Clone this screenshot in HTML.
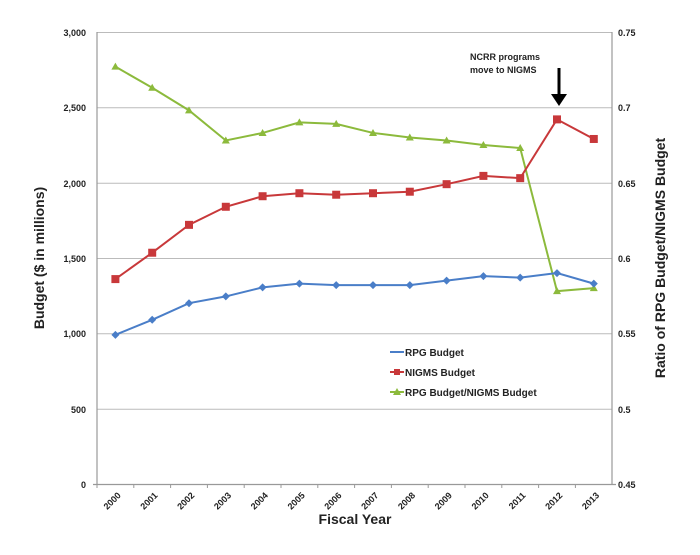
<!DOCTYPE html>
<html><head><meta charset="utf-8"><style>body{margin:0;background:#fff}</style></head><body>
<svg width="700" height="550" xmlns="http://www.w3.org/2000/svg" font-family="Liberation Sans, sans-serif">
<g stroke="#bbb" stroke-width="1">
<line x1="97" y1="32.5" x2="612" y2="32.5"/><line x1="97" y1="107.8" x2="612" y2="107.8"/><line x1="97" y1="183.2" x2="612" y2="183.2"/><line x1="97" y1="258.5" x2="612" y2="258.5"/><line x1="97" y1="333.8" x2="612" y2="333.8"/><line x1="97" y1="409.2" x2="612" y2="409.2"/>
</g>
<g stroke="#999" stroke-width="1.2"><line x1="97" y1="32" x2="97" y2="484"/><line x1="612" y1="32" x2="612" y2="484"/><line x1="93" y1="484.5" x2="616" y2="484.5"/></g>
<g font-size="9" font-weight="bold" fill="#222" text-anchor="end">
<text x="86" y="36">3,000</text><text x="86" y="111">2,500</text><text x="86" y="187">2,000</text><text x="86" y="262">1,500</text><text x="86" y="337">1,000</text><text x="86" y="413">500</text><text x="86" y="488">0</text>
</g>
<g font-size="9" font-weight="bold" fill="#222">
<text x="618" y="36">0.75</text><text x="618" y="111">0.7</text><text x="618" y="187">0.65</text><text x="618" y="262">0.6</text><text x="618" y="337">0.55</text><text x="618" y="413">0.5</text><text x="618" y="488">0.45</text>
</g>
<g font-size="9" font-weight="bold" fill="#222" text-anchor="end" id="xl"></g>
<text x="355" y="524" font-size="14" font-weight="bold" text-anchor="middle" fill="#222">Fiscal Year</text>
<text transform="translate(44,258) rotate(-90)" font-size="14" font-weight="bold" text-anchor="middle" fill="#222">Budget ($ in millions)</text>
<text transform="translate(665,258) rotate(-90)" font-size="14" font-weight="bold" text-anchor="middle" fill="#222">Ratio of RPG Budget/NIGMS Budget</text>
<text x="470" y="60" font-size="9" font-weight="bold" fill="#222">NCRR programs</text>
<text x="470" y="73" font-size="9" font-weight="bold" fill="#222">move to NIGMS</text>
<line x1="559" y1="68" x2="559" y2="96" stroke="#000" stroke-width="3"/><polygon points="551,94 567,94 559,106" fill="#000"/>
<g id="series"></g>
<g font-size="10" font-weight="bold" fill="#222">
<line x1="390" y1="352" x2="404" y2="352" stroke="#4a7ec8" stroke-width="2"/><text x="405" y="356">RPG Budget</text>
<line x1="390" y1="372" x2="404" y2="372" stroke="#c8383a" stroke-width="2"/><rect x="394" y="369" width="6" height="6" fill="#c8383a"/><text x="405" y="376">NIGMS Budget</text>
<line x1="390" y1="392" x2="404" y2="392" stroke="#8cba3c" stroke-width="2"/><polygon points="397,388 401,395 393,395" fill="#8cba3c"/><text x="405" y="396">RPG Budget/NIGMS Budget</text>
</g>
<script>
var ns="http://www.w3.org/2000/svg";
function X(i){return 115.4+i*36.8}
function Y(v){return 484-v*452/3000}
function R(r){return 484-(r-0.45)/0.3*452}
var rpg=[990,1090,1200,1245,1305,1330,1320,1320,1320,1350,1380,1370,1400,1330];
var ni=[1360,1535,1720,1840,1910,1930,1920,1930,1940,1990,2045,2030,2420,2290];
var ra=[0.727,0.713,0.698,0.678,0.683,0.690,0.689,0.683,0.680,0.678,0.675,0.673,0.578,0.580];
var g=document.getElementById('series'),xl=document.getElementById('xl');
function el(t,a,p){var e=document.createElementNS(ns,t);for(var k in a)e.setAttribute(k,a[k]);(p||g).appendChild(e);return e}
function line(ys,c){el('polyline',{points:ys.map(function(y,i){return X(i)+','+y}).join(' '),fill:'none',stroke:c,'stroke-width':2})}
var gy=ra.map(R),ny=ni.map(Y),ry=rpg.map(Y);
line(gy,'#8cba3c');line(ny,'#c8383a');line(ry,'#4a7ec8');
for(var i=0;i<14;i++){
el('polygon',{points:(X(i))+','+(gy[i]-4)+' '+(X(i)+4)+','+(gy[i]+3)+' '+(X(i)-4)+','+(gy[i]+3),fill:'#8cba3c'});
el('rect',{x:X(i)-4,y:ny[i]-4,width:8,height:8,fill:'#c8383a'});
el('polygon',{points:X(i)+','+(ry[i]-4)+' '+(X(i)+4)+','+ry[i]+' '+X(i)+','+(ry[i]+4)+' '+(X(i)-4)+','+ry[i],fill:'#4a7ec8'});
var t=el('text',{transform:'translate('+(X(i)+6)+',496) rotate(-45)'},xl);t.textContent=2000+i;
el('line',{x1:97+i*36.8,y1:484,x2:97+i*36.8,y2:488,stroke:'#999'});
}
</script>
</svg>
</body></html>
